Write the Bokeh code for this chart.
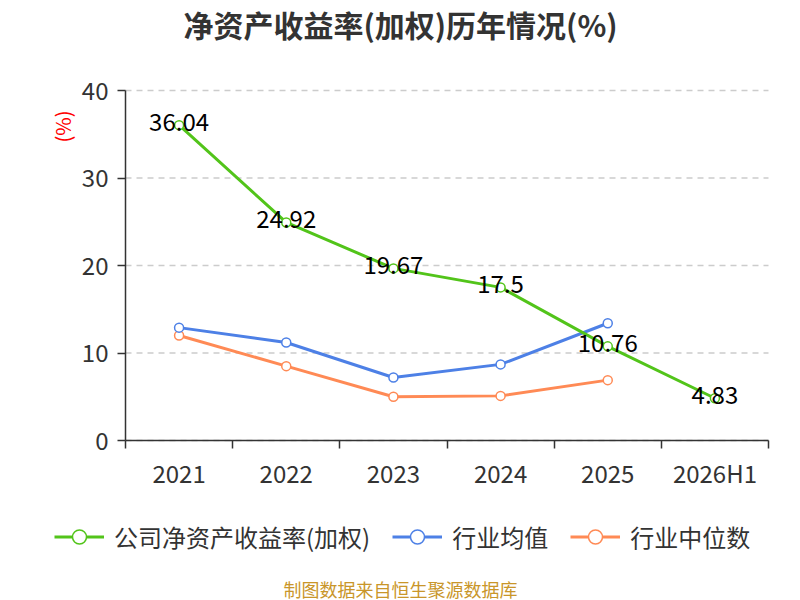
import math
from bokeh.plotting import figure
from bokeh.models import Range1d, FixedTicker, Legend, LegendItem, Label, LinearAxis
from bokeh.embed import file_html
from bokeh.resources import INLINE
from bokeh.core.properties import value

categories = ["2021", "2022", "2023", "2024", "2025", "2026H1"]
company_roe = [36.04, 24.92, 19.67, 17.5, 10.76, 4.83]
industry_avg = [12.9, 11.2, 7.2, 8.7, 13.4]
industry_median = [12.0, 8.5, 5.0, 5.1, 6.9]
y_ticks = [0, 10, 20, 30, 40]

series_names = ["公司净资产收益率(加权)", "行业均值", "行业中位数"]
title_text = "净资产收益率(加权)历年情况(%)"
unit_text = "(%)"
source_text = "制图数据来自恒生聚源数据库"

FONT = "Noto Sans CJK SC"
GREEN = "#52c41a"
BLUE = "#4d80e6"
ORANGE = "#ff8a55"
DARK = "#333333"

# canvas and plotting-area geometry (pixels)
W, H = 800, 600
AX_L, AX_R, AX_T, AX_B = 125, 768, 90, 440
n_cat = len(categories)
y_max = y_ticks[-1]
px_x = (AX_R - AX_L) / n_cat
px_y = (AX_B - AX_T) / y_max

p = figure(width=W, height=H, output_backend="svg", toolbar_location=None, title=None,
           x_axis_type=None, y_axis_type=None,
           x_range=Range1d(-AX_L / px_x, (W - AX_L) / px_x),
           y_range=Range1d(-(H - AX_B) / px_y, AX_B / px_y),
           min_border=0, min_border_left=0, min_border_right=0,
           min_border_top=0, min_border_bottom=0)
p.outline_line_color = None
p.background_fill_color = "white"
p.border_fill_color = "white"

xs = [i + 0.5 for i in range(n_cat)]

# grid lines (dashed), drawn from the tick values
p.segment(x0=[0] * len(y_ticks), y0=y_ticks, x1=[n_cat] * len(y_ticks), y1=y_ticks,
          line_color="#cccccc", line_dash="6 5", line_width=1.5)

# axes at fixed positions
xaxis = LinearAxis(fixed_location=0, bounds=(0, n_cat),
                   ticker=FixedTicker(ticks=xs, minor_ticks=list(range(n_cat + 1))),
                   major_label_overrides={x: c for x, c in zip(xs, categories)})
xaxis.major_tick_out = 0
xaxis.major_tick_in = 0
xaxis.minor_tick_out = 8
xaxis.minor_tick_in = 0
xaxis.minor_tick_line_color = DARK
xaxis.minor_tick_line_width = 1.5
xaxis.major_label_standoff = 6
yaxis = LinearAxis(fixed_location=0, bounds=(0, y_max), ticker=FixedTicker(ticks=y_ticks))
yaxis.major_tick_out = 8
yaxis.major_tick_in = 0
yaxis.minor_tick_line_color = None
yaxis.major_label_standoff = 9
for ax in (xaxis, yaxis):
    ax.axis_line_color = DARK
    ax.axis_line_width = 1.5
    ax.major_tick_line_color = DARK
    ax.major_tick_line_width = 1.5
    ax.major_label_text_font = FONT
    ax.major_label_text_font_size = "24px"
    ax.major_label_text_color = DARK
p.add_layout(xaxis, "below")
p.add_layout(yaxis, "left")

n_ind = len(industry_avg)
l3 = p.line(xs[:n_ind], industry_median, line_color=ORANGE, line_width=3)
s3 = p.scatter(xs[:n_ind], industry_median, size=9, fill_color="white", line_color=ORANGE, line_width=1.5)
l2 = p.line(xs[:n_ind], industry_avg, line_color=BLUE, line_width=3)
s2 = p.scatter(xs[:n_ind], industry_avg, size=9, fill_color="white", line_color=BLUE, line_width=1.5)
l1 = p.line(xs, company_roe, line_color=GREEN, line_width=3)
s1 = p.scatter(xs, company_roe, size=9, fill_color="white", line_color=GREEN, line_width=1.5)
p.text(xs, company_roe, text=[str(v) for v in company_roe], text_align="center",
       text_baseline="middle", y_offset=-3, text_font=value(FONT), text_font_size="24px",
       text_color="black")

legend = Legend(items=[LegendItem(label=series_names[0], renderers=[l1, s1]),
                       LegendItem(label=series_names[1], renderers=[l2, s2]),
                       LegendItem(label=series_names[2], renderers=[l3, s3])],
                orientation="horizontal", location=(54, 46),
                glyph_width=50, glyph_height=35, label_standoff=10, spacing=22,
                label_text_font=FONT, label_text_font_size="24px", label_text_color=DARK,
                label_text_baseline="middle",
                padding=0, margin=0, border_line_color=None, background_fill_alpha=0)
p.add_layout(legend)

p.add_layout(Label(x=400, y=H - 23, x_units="screen", y_units="screen", text=title_text,
                   text_align="center", text_baseline="middle", text_font=FONT,
                   text_font_size="30px", text_font_style="bold", text_color=DARK))
p.add_layout(Label(x=62, y=H - 126, x_units="screen", y_units="screen", text=unit_text,
                   angle=math.pi / 2, text_align="center", text_baseline="middle", text_font=FONT,
                   text_font_size="20px", text_color="red"))
p.add_layout(Label(x=400, y=H - 588, x_units="screen", y_units="screen", text=source_text,
                   text_align="center", text_baseline="middle", text_font=FONT,
                   text_font_size="18px", text_color="#c9962a"))

open("out.html", "w").write(file_html(p, INLINE))
